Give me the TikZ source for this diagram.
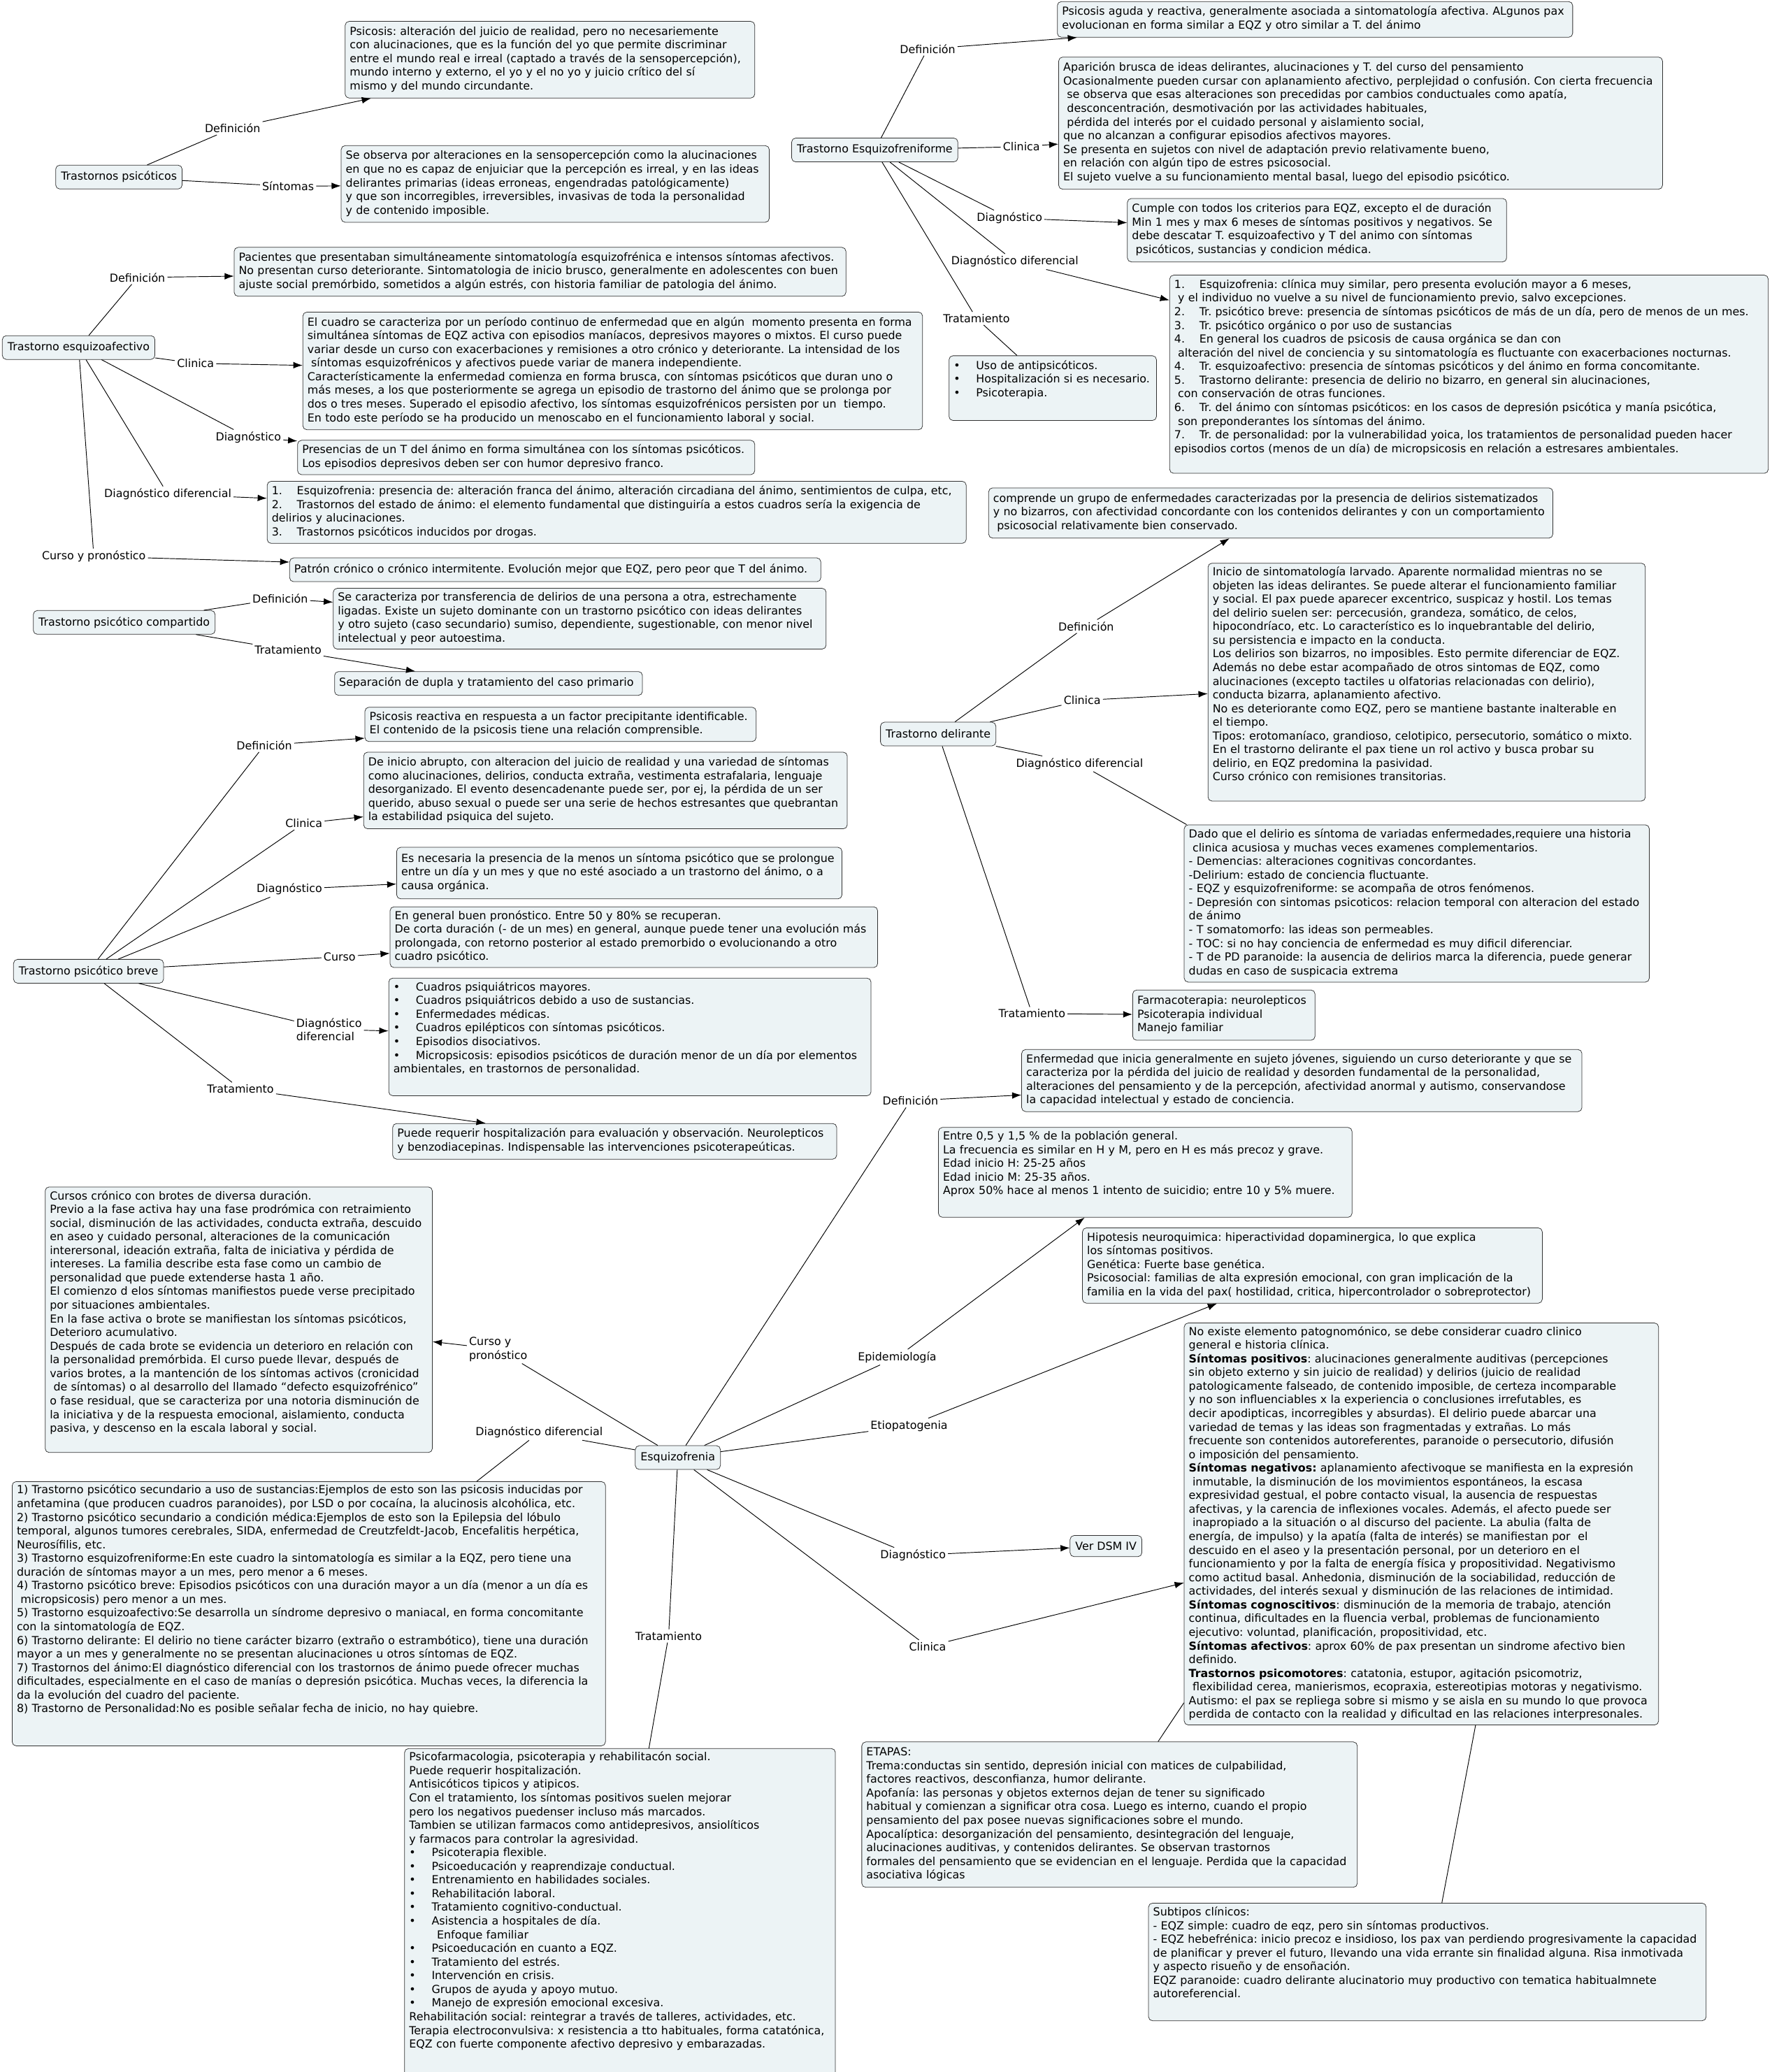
\documentclass[tikz,border=0pt]{standalone}
\usepackage{fontspec}
\setmainfont{DejaVu Sans}
\usetikzlibrary{arrows.meta}
\tikzset{>={Latex[length=7pt,width=5pt]}}
\definecolor{boxfill}{RGB}{236,243,245}
\definecolor{boxline}{RGB}{50,50,50}
\frenchspacing
\newcommand{\lns}[1]{\begin{tabular}{@{}l@{}}#1\end{tabular}}
\newcommand{\itm}{\makebox[17pt][l]{•}}
\newcommand{\nitem}[1]{\makebox[19pt][l]{#1}}
\begin{document}
\begin{tikzpicture}[x=1pt, y=-1pt,
  every node/.style={font=\fontsize{8.4}{10.35}\selectfont},
  box/.style={draw=boxline, fill=boxfill, rounded corners=3pt, anchor=north west,
    inner xsep=3.5pt, inner ysep=2pt, align=left},
  concept/.style={draw=boxline, fill=boxfill, rounded corners=3pt,
    inner xsep=4pt, inner ysep=2pt, minimum height=18pt},
  lbl/.style={inner sep=1.5pt, align=left},
  link/.style={line width=0.5pt}]
\fill[white] (0,0) rectangle (1341,1568);
\useasboundingbox (0,0) rectangle (1341,1568);

% Trastornos psicoticos
\node[concept] (tp) at (90,134) {Trastornos psicóticos};
\node[lbl] (ltpdef) at (176,97) {Definición};
\node[lbl] (ltpsin) at (218,141) {Síntomas};
\node[box, text width=303pt, minimum height=58pt] (tpdef) at (261,16) {\lns{%
Psicosis: alteración del juicio de realidad, pero no necesariemente\\
con alucinaciones, que es la función del yo que permite discriminar\\
entre el mundo real e irreal (captado a través de la sensopercepción),\\
mundo interno y externo, el yo y el no yo y juicio crítico del sí\\
mismo y del mundo circundante.}};
\node[box, text width=317pt, minimum height=58pt] (tpsin) at (258,110) {\lns{%
Se observa por alteraciones en la sensopercepción como la alucinaciones\\
en que no es capaz de enjuiciar que la percepción es irreal, y en las ideas\\
delirantes primarias (ideas erroneas, engendradas patológicamente)\\
y que son incorregibles, irreversibles, invasivas de toda la personalidad\\
y de contenido imposible.}};
\path[link]
(tp) edge (ltpdef)
(ltpdef) edge[->] (tpdef)
(tp) edge (ltpsin)
(ltpsin) edge[->] (tpsin);

% Trastorno esquizofreniforme
\node[concept] (tef) at (662,113.5) {Trastorno Esquizofreniforme};
\node[lbl] (ltefdef) at (702,37) {Definición};
\node[lbl] (ltefcl) at (773,111) {Clinica};
\node[lbl] (ltefdg) at (764,165) {Diagnóstico};
\node[lbl] (ltefdd) at (768,198) {Diagnóstico diferencial};
\node[lbl] (lteft) at (739,241) {Tratamiento};
\node[box, text width=383pt, minimum height=27pt] (tefd) at (800,1) {\lns{%
Psicosis aguda y reactiva, generalmente asociada a sintomatología afectiva. ALgunos pax\\
evolucionan en forma similar a EQZ y otro similar a T. del ánimo}};
\node[box, text width=450pt, minimum height=100pt] (tefcl) at (801,43) {\lns{%
Aparición brusca de ideas delirantes, alucinaciones y T. del curso del pensamiento\\
Ocasionalmente pueden cursar con aplanamiento afectivo, perplejidad o confusión. Con cierta frecuencia\\
\ se observa que esas alteraciones son precedidas por cambios conductuales como apatía,\\
\ desconcentración, desmotivación por las actividades habituales,\\
\ pérdida del interés por el cuidado personal y aislamiento social,\\
que no alcanzan a configurar episodios afectivos mayores.\\
Se presenta en sujetos con nivel de adaptación previo relativamente bueno,\\
en relación con algún tipo de estres psicosocial.\\
El sujeto vuelve a su funcionamiento mental basal, luego del episodio psicótico.}};
\node[box, text width=280pt, minimum height=48pt] (tefdg) at (853,150) {\lns{%
Cumple con todos los criterios para EQZ, excepto el de duración\\
Min 1 mes y max 6 meses de síntomas positivos y negativos. Se\\
debe descatar T. esquizoafectivo y T del animo con síntomas\\
\ psicóticos, sustancias y condicion médica.}};
\node[box, text width=446pt, minimum height=150pt] (tefdd) at (885,208) {\lns{%
\nitem{1.}Esquizofrenia: clínica muy similar, pero presenta evolución mayor a 6 meses,\\
\ y el individuo no vuelve a su nivel de funcionamiento previo, salvo excepciones.\\
\nitem{2.}Tr. psicótico breve: presencia de síntomas psicóticos de más de un día, pero de menos de un mes.\\
\nitem{3.}Tr. psicótico orgánico o por uso de sustancias\\
\nitem{4.}En general los cuadros de psicosis de causa orgánica se dan con\\
\ alteración del nivel de conciencia y su sintomatología es fluctuante con exacerbaciones nocturnas.\\
\nitem{4.}Tr. esquizoafectivo: presencia de síntomas psicóticos y del ánimo en forma concomitante.\\
\nitem{5.}Trastorno delirante: presencia de delirio no bizarro, en general sin alucinaciones,\\
\ con conservación de otras funciones.\\
\nitem{6.}Tr. del ánimo con síntomas psicóticos: en los casos de depresión psicótica y manía psicótica,\\
\ son preponderantes los síntomas del ánimo.\\
\nitem{7.}Tr. de personalidad: por la vulnerabilidad yoica, los tratamientos de personalidad pueden hacer\\
episodios cortos (menos de un día) de micropsicosis en relación a estresares ambientales.\\[10pt]}};
\node[box, text width=150pt, minimum height=49pt] (teft) at (718,269) {\lns{%
\itm Uso de antipsicóticos.\\
\itm Hospitalización si es necesario.\\
\itm Psicoterapia.\\[12pt]}};
\path[link]
(tef) edge (ltefdef)
(ltefdef) edge[->] (tefd)
(tef) edge (ltefcl)
(ltefcl) edge[->] (tefcl)
(tef) edge (ltefdg)
(ltefdg) edge[->] (tefdg)
(tef) edge (ltefdd)
(ltefdd) edge[->] (tefdd)
(tef) edge (lteft)
(lteft) edge (teft);

% Trastorno esquizoafectivo
\node[concept] (tea) at (59.5,263) {Trastorno esquizoafectivo};
\node[lbl] (lteadef) at (104,210) {Definición};
\node[lbl] (lteacl) at (148,275) {Clinica};
\node[lbl] (lteadg) at (188,331) {Diagnóstico};
\node[lbl] (lteadd) at (127,374) {Diagnóstico diferencial};
\node[lbl] (lteacp) at (71,421) {Curso y pronóstico};
\node[box, text width=456pt, minimum height=37pt] (tead) at (177,187) {\lns{%
Pacientes que presentaban simultáneamente sintomatología esquizofrénica e intensos síntomas afectivos.\\
No presentan curso deteriorante. Sintomatologia de inicio brusco, generalmente en adolescentes con buen\\
ajuste social premórbido, sometidos a algún estrés, con historia familiar de patologia del ánimo.}};
\node[box, text width=462pt, minimum height=89pt] (teacl) at (229,236) {\lns{%
El cuadro se caracteriza por un período continuo de enfermedad que en algún\ \ momento presenta en forma\\
simultánea síntomas de EQZ activa con episodios maníacos, depresivos mayores o mixtos. El curso puede\\
variar desde un curso con exacerbaciones y remisiones a otro crónico y deteriorante. La intensidad de los\\
\ síntomas esquizofrénicos y afectivos puede variar de manera independiente.\\
Característicamente la enfermedad comienza en forma brusca, con síntomas psicóticos que duran uno o\\
más meses, a los que posteriormente se agrega un episodio de trastorno del ánimo que se prolonga por\\
dos o tres meses. Superado el episodio afectivo, los síntomas esquizofrénicos persisten por un\ \ tiempo.\\
En todo este período se ha producido un menoscabo en el funcionamiento laboral y social.}};
\node[box, text width=339pt, minimum height=26pt] (teadg) at (225,333) {\lns{%
Presencias de un T del ánimo en forma simultánea con los síntomas psicóticos.\\
Los episodios depresivos deben ser con humor depresivo franco.}};
\node[box, text width=522pt, minimum height=47pt] (teadd) at (202,364) {\lns{%
\nitem{1.}Esquizofrenia: presencia de: alteración franca del ánimo, alteración circadiana del ánimo, sentimientos de culpa, etc,\\
\nitem{2.}Trastornos del estado de ánimo: el elemento fundamental que distinguiría a estos cuadros sería la exigencia de\\
delirios y alucinaciones.\\
\nitem{3.}Trastornos psicóticos inducidos por drogas.}};
\node[box, text width=395pt, minimum height=18pt] (teacp) at (219,422) {\lns{%
Patrón crónico o crónico intermitente. Evolución mejor que EQZ, pero peor que T del ánimo.}};
\path[link]
(tea) edge (lteadef)
(lteadef) edge[->] (tead)
(tea) edge (lteacl)
(lteacl) edge[->] (teacl)
(tea) edge (lteadg)
(lteadg) edge[->] (teadg)
(tea) edge (lteadd)
(lteadd) edge[->] (teadd)
(tea) edge (lteacp)
(lteacp) edge[->] (teacp);

% Trastorno psicotico compartido
\node[concept] (tpc) at (94,471) {Trastorno psicótico compartido};
\node[lbl] (ltpcdef) at (212,453) {Definición};
\node[lbl] (ltpct) at (218,492) {Tratamiento};
\node[box, text width=366pt, minimum height=46pt] (tpcd) at (252,445) {\lns{%
Se caracteriza por transferencia de delirios de una persona a otra, estrechamente\\
ligadas. Existe un sujeto dominante con un trastorno psicótico con ideas delirantes\\
y otro sujeto (caso secundario) sumiso, dependiente, sugestionable, con menor nivel\\
intelectual y peor autoestima.}};
\node[box, text width=226pt, minimum height=18pt] (tpct) at (253,508) {\lns{%
Separación de dupla y tratamiento del caso primario}};
\path[link]
(tpc) edge (ltpcdef)
(ltpcdef) edge[->] (tpcd)
(tpc) edge (ltpct)
(ltpct) edge[->] (tpct);

% Trastorno psicotico breve
\node[concept] (tpb) at (67,735) {Trastorno psicótico breve};
\node[lbl] (ltpbdef) at (200,564) {Definición};
\node[lbl] (ltpbcl) at (230,623) {Clinica};
\node[lbl] (ltpbdg) at (219,673) {Diagnóstico};
\node[lbl] (ltpbcu) at (257,724) {Curso};
\node[lbl] (ltpbdd) at (249,779) {Diagnóstico\\diferencial};
\node[lbl] (ltpbt) at (182,824) {Tratamiento};
\node[box, text width=289pt, minimum height=26pt] (tpbd) at (276,535) {\lns{%
Psicosis reactiva en respuesta a un factor precipitante identificable.\\
El contenido de la psicosis tiene una relación comprensible.}};
\node[box, text width=359pt, minimum height=58pt] (tpbcl) at (275,569) {\lns{%
De inicio abrupto, con alteracion del juicio de realidad y una variedad de síntomas\\
como alucinaciones, delirios, conducta extraña, vestimenta estrafalaria, lenguaje\\
desorganizado. El evento desencadenante puede ser, por ej, la pérdida de un ser\\
querido, abuso sexual o puede ser una serie de hechos estresantes que quebrantan\\
la estabilidad psiquica del sujeto.}};
\node[box, text width=330pt, minimum height=39pt] (tpbdg) at (300,641) {\lns{%
Es necesaria la presencia de la menos un síntoma psicótico que se prolongue\\
entre un día y un mes y que no esté asociado a un trastorno del ánimo, o a\\
causa orgánica.}};
\node[box, text width=362pt, minimum height=46pt] (tpbcu) at (295,686) {\lns{%
En general buen pronóstico. Entre 50 y 80\% se recuperan.\\
De corta duración (- de un mes) en general, aunque puede tener una evolución más\\
prolongada, con retorno posterior al estado premorbido o evolucionando a otro\\
cuadro psicótico.}};
\node[box, text width=358pt, minimum height=89pt] (tpbdd) at (294,740) {\lns{%
\itm Cuadros psiquiátricos mayores.\\
\itm Cuadros psiquiátricos debido a uso de sustancias.\\
\itm Enfermedades médicas.\\
\itm Cuadros epilépticos con síntomas psicóticos.\\
\itm Episodios disociativos.\\
\itm Micropsicosis: episodios psicóticos de duración menor de un día por elementos\\
ambientales, en trastornos de personalidad.\\[12pt]}};
\node[box, text width=329pt, minimum height=27pt] (tpbt) at (297,850) {\lns{%
Puede requerir hospitalización para evaluación y observación. Neurolepticos\\
y benzodiacepinas. Indispensable las intervenciones psicoterapeúticas.}};
\path[link]
(tpb) edge (ltpbdef)
(ltpbdef) edge[->] (tpbd)
(tpb) edge (ltpbcl)
(ltpbcl) edge[->] (tpbcl)
(tpb) edge (ltpbdg)
(ltpbdg) edge[->] (tpbdg)
(tpb) edge (ltpbcu)
(ltpbcu) edge[->] (tpbcu)
(tpb) edge (ltpbdd)
(ltpbdd) edge[->] (tpbdd)
(tpb) edge (ltpbt)
(ltpbt) edge[->] (tpbt);

% Trastorno delirante
\node[concept] (td) at (710,555.5) {Trastorno delirante};
\node[lbl] (ltddef) at (822,474) {Definición};
\node[lbl] (ltdcl) at (819,530) {Clinica};
\node[lbl] (ltddd) at (817,578) {Diagnóstico diferencial};
\node[lbl] (ltdt) at (781,767) {Tratamiento};
\node[box, text width=420pt, minimum height=38pt] (tdd) at (748,369) {\lns{%
comprende un grupo de enfermedades caracterizadas por la presencia de delirios sistematizados\\
y no bizarros, con afectividad concordante con los contenidos delirantes y con un comportamiento\\
\ psicosocial relativamente bien conservado.}};
\node[box, text width=324pt, minimum height=180pt] (tdcl) at (914,426) {\lns{%
Inicio de sintomatología larvado. Aparente normalidad mientras no se\\
objeten las ideas delirantes. Se puede alterar el funcionamiento familiar\\
y social. El pax puede aparecer excentrico, suspicaz y hostil. Los temas\\
del delirio suelen ser: percecusión, grandeza, somático, de celos,\\
hipocondríaco, etc. Lo característico es lo inquebrantable del delirio,\\
su persistencia e impacto en la conducta.\\
Los delirios son bizarros, no imposibles. Esto permite diferenciar de EQZ.\\
Además no debe estar acompañado de otros sintomas de EQZ, como\\
alucinaciones (excepto tactiles u olfatorias relacionadas con delirio),\\
conducta bizarra, aplanamiento afectivo.\\
No es deteriorante como EQZ, pero se mantiene bastante inalterable en\\
el tiempo.\\
Tipos: erotomaníaco, grandioso, celotipico, persecutorio, somático o mixto.\\
En el trastorno delirante el pax tiene un rol activo y busca probar su\\
delirio, en EQZ predomina la pasividad.\\
Curso crónico con remisiones transitorias.\\[10pt]}};
\node[box, text width=345pt, minimum height=119pt] (tddd) at (896,624) {\lns{%
Dado que el delirio es síntoma de variadas enfermedades,requiere una historia\\
\ clinica acusiosa y muchas veces examenes complementarios.\\
- Demencias: alteraciones cognitivas concordantes.\\
-Delirium: estado de conciencia fluctuante.\\
- EQZ y esquizofreniforme: se acompaña de otros fenómenos.\\
- Depresión con sintomas psicoticos: relacion temporal con alteracion del estado\\
de ánimo\\
- T somatomorfo: las ideas son permeables.\\
- TOC: si no hay conciencia de enfermedad es muy dificil diferenciar.\\
- T de PD paranoide: la ausencia de delirios marca la diferencia, puede generar\\
dudas en caso de suspicacia extrema}};
\node[box, text width=131pt, minimum height=38pt] (tdt) at (857,749) {\lns{%
Farmacoterapia: neurolepticos\\
Psicoterapia individual\\
Manejo familiar}};
\path[link]
(td) edge (ltddef)
(ltddef) edge[->] (tdd)
(td) edge (ltdcl)
(ltdcl) edge[->] (tdcl)
(td) edge (ltddd)
(ltddd) edge ([xshift=2pt]tddd.north west)
(td) edge (ltdt)
(ltdt) edge[->] (tdt);

% Esquizofrenia
\node[concept] (eqz) at (513,1103) {Esquizofrenia};
\node[lbl] (leqzdef) at (689,833) {Definición};
\node[lbl] (leqzepi) at (679,1027) {Epidemiología};
\node[lbl] (leqzetio) at (688,1079) {Etiopatogenia};
\node[lbl] (leqzdg) at (691,1177) {Diagnóstico};
\node[lbl] (leqzcl) at (702,1246) {Clinica};
\node[lbl] (leqzcu) at (377,1021) {Curso y\\pronóstico};
\node[lbl] (leqzdd) at (408,1084) {Diagnóstico diferencial};
\node[lbl] (leqzt) at (506,1238) {Tratamiento};
\node[box, text width=417pt, minimum height=47pt] (eqzd) at (773,794) {\lns{%
Enfermedad que inicia generalmente en sujeto jóvenes, siguiendo un curso deteriorante y que se\\
caracteriza por la pérdida del juicio de realidad y desorden fundamental de la personalidad,\\
alteraciones del pensamiento y de la percepción, afectividad anormal y autismo, conservandose\\
la capacidad intelectual y estado de conciencia.}};
\node[box, text width=306pt, minimum height=68pt] (eqzepi) at (710,853) {\lns{%
Entre 0,5 y 1,5 \% de la población general.\\
La frecuencia es similar en H y M, pero en H es más precoz y grave.\\
Edad inicio H: 25-25 años\\
Edad inicio M: 25-35 años.\\
Aprox 50\% hace al menos 1 intento de suicidio; entre 10 y 5\% muere.\\[12pt]}};
\node[box, text width=341pt, minimum height=57pt] (eqzetio) at (819,929) {\lns{%
Hipotesis neuroquimica: hiperactividad dopaminergica, lo que explica\\
los síntomas positivos.\\
Genética: Fuerte base genética.\\
Psicosocial: familias de alta expresión emocional, con gran implicación de la\\
familia en la vida del pax( hostilidad, critica, hipercontrolador o sobreprotector)}};
\node[concept, minimum height=16pt] (eqzdg) at (837,1170) {Ver DSM IV};
\node[box, text width=352pt, minimum height=304pt] (eqzcl) at (896,1001) {\lns{%
No existe elemento patognomónico, se debe considerar cuadro clinico\\
general e historia clínica.\\
\textbf{Síntomas positivos}: alucinaciones generalmente auditivas (percepciones\\
sin objeto externo y sin juicio de realidad) y delirios (juicio de realidad\\
patologicamente falseado, de contenido imposible, de certeza incomparable\\
y no son influenciables x la experiencia o conclusiones irrefutables, es\\
decir apodipticas, incorregibles y absurdas). El delirio puede abarcar una\\
variedad de temas y las ideas son fragmentadas y extrañas. Lo más\\
frecuente son contenidos autoreferentes, paranoide o persecutorio, difusión\\
o imposición del pensamiento.\\
\textbf{Síntomas negativos:} aplanamiento afectivoque se manifiesta en la expresión\\
\ inmutable, la disminución de los movimientos espontáneos, la escasa\\
expresividad gestual, el pobre contacto visual, la ausencia de respuestas\\
afectivas, y la carencia de inflexiones vocales. Además, el afecto puede ser\\
\ inapropiado a la situación o al discurso del paciente. La abulia (falta de\\
energía, de impulso) y la apatía (falta de interés) se manifiestan por\ \ el\\
descuido en el aseo y la presentación personal, por un deterioro en el\\
funcionamiento y por la falta de energía física y propositividad. Negativismo\\
como actitud basal. Anhedonia, disminución de la sociabilidad, reducción de\\
actividades, del interés sexual y disminución de las relaciones de intimidad.\\
\textbf{Síntomas cognoscitivos}: disminución de la memoria de trabajo, atención\\
continua, dificultades en la fluencia verbal, problemas de funcionamiento\\
ejecutivo: voluntad, planificación, propositividad, etc.\\
\textbf{Síntomas afectivos}: aprox 60\% de pax presentan un sindrome afectivo bien\\
definido.\\
\textbf{Trastornos psicomotores}: catatonia, estupor, agitación psicomotriz,\\
\ flexibilidad cerea, manierismos, ecopraxia, estereotipias motoras y negativismo.\\
Autismo: el pax se repliega sobre si mismo y se aisla en su mundo lo que provoca\\
perdida de contacto con la realidad y dificultad en las relaciones interpresonales.}};
\node[box, text width=286pt, minimum height=201pt] (eqzcu) at (34,898) {\lns{%
Cursos crónico con brotes de diversa duración.\\
Previo a la fase activa hay una fase prodrómica con retraimiento\\
social, disminución de las actividades, conducta extraña, descuido\\
en aseo y cuidado personal, alteraciones de la comunicación\\
interersonal, ideación extraña, falta de iniciativa y pérdida de\\
intereses. La familia describe esta fase como un cambio de\\
personalidad que puede extenderse hasta 1 año.\\
El comienzo d elos síntomas manifiestos puede verse precipitado\\
por situaciones ambientales.\\
En la fase activa o brote se manifiestan los síntomas psicóticos,\\
Deterioro acumulativo.\\
Después de cada brote se evidencia un deterioro en relación con\\
la personalidad premórbida. El curso puede llevar, después de\\
varios brotes, a la mantención de los síntomas activos (cronicidad\\
\ de síntomas) o al desarrollo del llamado “defecto esquizofrénico”\\
o fase residual, que se caracteriza por una notoria disminución de\\
la iniciativa y de la respuesta emocional, aislamiento, conducta\\
pasiva, y descenso en la escala laboral y social.\\[10pt]}};
\node[box, text width=442pt, minimum height=191pt] (eqzdd) at (9,1121) {\lns{%
1) Trastorno psicótico secundario a uso de sustancias:Ejemplos de esto son las psicosis inducidas por\\
anfetamina (que producen cuadros paranoides), por LSD o por cocaína, la alucinosis alcohólica, etc.\\
2) Trastorno psicótico secundario a condición médica:Ejemplos de esto son la Epilepsia del lóbulo\\
temporal, algunos tumores cerebrales, SIDA, enfermedad de Creutzfeldt-Jacob, Encefalitis herpética,\\
Neurosífilis, etc.\\
3) Trastorno esquizofreniforme:En este cuadro la sintomatología es similar a la EQZ, pero tiene una\\
duración de síntomas mayor a un mes, pero menor a 6 meses.\\
4) Trastorno psicótico breve: Episodios psicóticos con una duración mayor a un día (menor a un día es\\
\ micropsicosis) pero menor a un mes.\\
5) Trastorno esquizoafectivo:Se desarrolla un síndrome depresivo o maniacal, en forma concomitante\\
con la sintomatología de EQZ.\\
6) Trastorno delirante: El delirio no tiene carácter bizarro (extraño o estrambótico), tiene una duración\\
mayor a un mes y generalmente no se presentan alucinaciones u otros síntomas de EQZ.\\
7) Trastornos del ánimo:El diagnóstico diferencial con los trastornos de ánimo puede ofrecer muchas\\
dificultades, especialmente en el caso de manías o depresión psicótica. Muchas veces, la diferencia la\\
da la evolución del cuadro del paciente.\\
8) Trastorno de Personalidad:No es posible señalar fecha de inicio, no hay quiebre.\\[20pt]}};
\node[box, text width=319pt, minimum height=243pt] (eqzt) at (306,1323) {\lns{%
Psicofarmacologia, psicoterapia y rehabilitacón social.\\
Puede requerir hospitalización.\\
Antisicóticos tipicos y atipicos.\\
Con el tratamiento, los síntomas positivos suelen mejorar\\
pero los negativos puedenser incluso más marcados.\\
Tambien se utilizan farmacos como antidepresivos, ansiolíticos\\
y farmacos para controlar la agresividad.\\
\itm Psicoterapia flexible.\\
\itm Psicoeducación y reaprendizaje conductual.\\
\itm Entrenamiento en habilidades sociales.\\
\itm Rehabilitación laboral.\\
\itm Tratamiento cognitivo-conductual.\\
\itm Asistencia a hospitales de día.\\
\hspace{21pt}Enfoque familiar\\
\itm Psicoeducación en cuanto a EQZ.\\
\itm Tratamiento del estrés.\\
\itm Intervención en crisis.\\
\itm Grupos de ayuda y apoyo mutuo.\\
\itm Manejo de expresión emocional excesiva.\\
Rehabilitación social: reintegrar a través de talleres, actividades, etc.\\
Terapia electroconvulsiva: x resistencia a tto habituales, forma catatónica,\\
EQZ con fuerte componente afectivo depresivo y embarazadas.\\[18pt]}};
\node[box, text width=368pt, minimum height=110pt] (etapas) at (652,1318) {\lns{%
ETAPAS:\\
Trema:conductas sin sentido, depresión inicial con matices de culpabilidad,\\
factores reactivos, desconfianza, humor delirante.\\
Apofanía: las personas y objetos externos dejan de tener su significado\\
habitual y comienzan a significar otra cosa. Luego es interno, cuando el propio\\
pensamiento del pax posee nuevas significaciones sobre el mundo.\\
Apocalíptica: desorganización del pensamiento, desintegración del lenguaje,\\
alucinaciones auditivas, y contenidos delirantes. Se observan trastornos\\
formales del pensamiento que se evidencian en el lenguaje. Perdida que la capacidad\\
asociativa lógicas}};
\node[box, text width=415pt, minimum height=89pt] (subt) at (869,1440) {\lns{%
Subtipos clínicos:\\
- EQZ simple: cuadro de eqz, pero sin síntomas productivos.\\
- EQZ hebefrénica: inicio precoz e insidioso, los pax van perdiendo progresivamente la capacidad\\
de planificar y prever el futuro, llevando una vida errante sin finalidad alguna. Risa inmotivada\\
y aspecto risueño y de ensoñación.\\
EQZ paranoide: cuadro delirante alucinatorio muy productivo con tematica habitualmnete\\
autoreferencial.\\[12pt]}};
\path[link]
(eqz) edge (leqzdef)
(leqzdef) edge[->] (eqzd)
(eqz) edge (leqzepi)
(leqzepi) edge[->] (eqzepi)
(eqz) edge (leqzetio)
(leqzetio) edge[->] (eqzetio)
(eqz) edge (leqzdg)
(leqzdg) edge[->] (eqzdg)
(eqz) edge (leqzcl)
(leqzcl) edge[->] (eqzcl)
(eqz) edge (leqzcu)
(leqzcu) edge[->] (eqzcu)
(eqz) edge (leqzdd)
(leqzdd) edge (eqzdd)
(eqz) edge (leqzt)
(leqzt) edge (eqzt)
([yshift=17pt]eqzcl.south west) edge (etapas)
([xshift=41pt]eqzcl.south) edge ([xshift=11pt]subt.north);
\end{tikzpicture}
\end{document}
